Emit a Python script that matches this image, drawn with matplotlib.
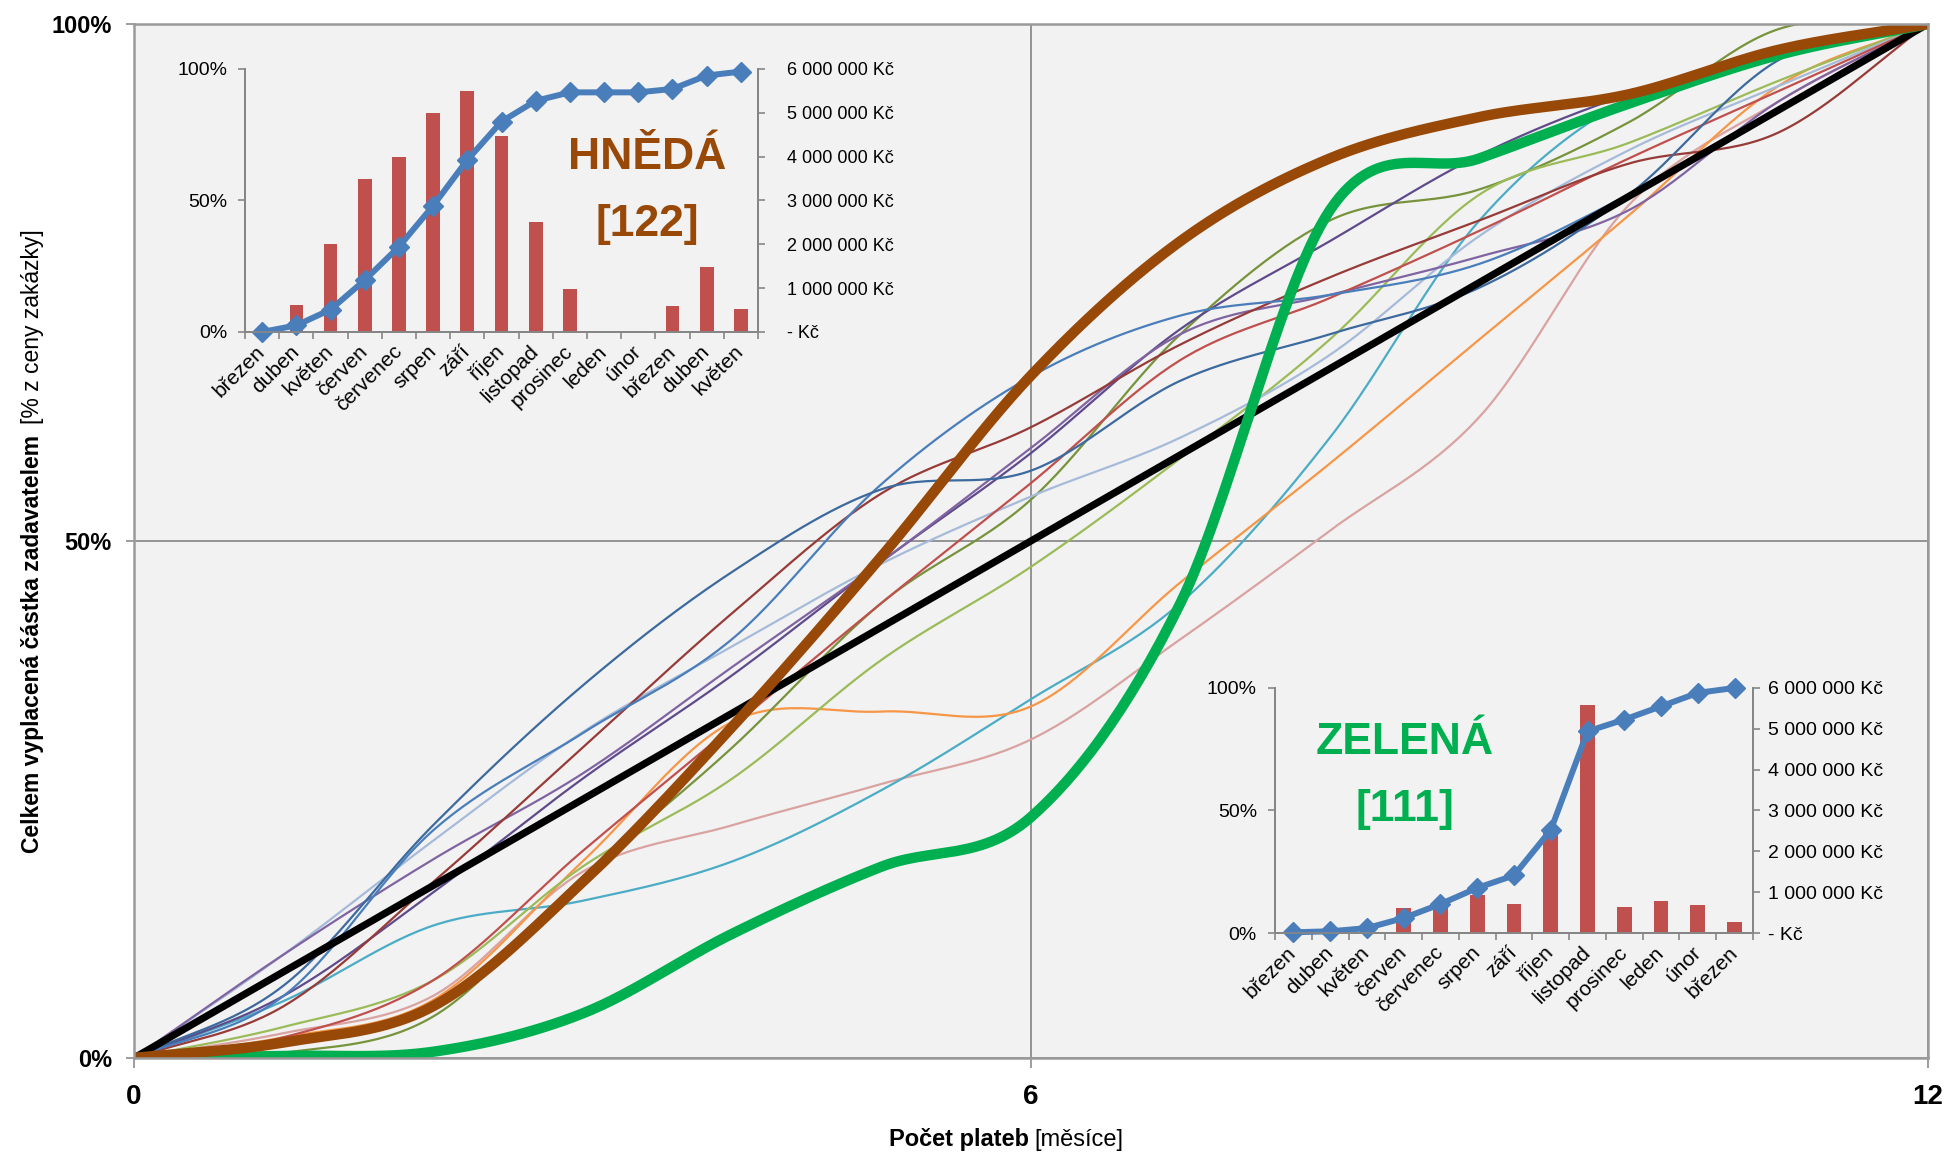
import numpy as np
import matplotlib.pyplot as plt
from matplotlib import font_manager

installed = {f.name for f in font_manager.fontManager.ttflist}
NARROW = 'Liberation Sans Narrow' if 'Liberation Sans Narrow' in installed else 'Liberation Sans'
SANS = 'Liberation Sans'

# --- main chart: share of contract price paid vs. number of monthly payments
months = list(range(13))
ideal_x = [0, 12]
ideal_y = [0.0, 1.0]

brown = [0, 0.015, 0.05, 0.17, 0.32, 0.485, 0.66, 0.79, 0.87, 0.91, 0.932, 0.975, 1.0]
green = [0, 0.002, 0.006, 0.043, 0.12, 0.185, 0.233, 0.44, 0.82, 0.87, 0.923, 0.97, 1.0]

dark_blue = [0, 0.07, 0.225, 0.36, 0.47, 0.55, 0.568, 0.655, 0.70, 0.745, 0.835, 0.965, 1.0]
blue = [0, 0.06, 0.22, 0.314, 0.405, 0.555, 0.659, 0.718, 0.738, 0.768, 0.835, 0.915, 1.0]
dark_red = [0, 0.05, 0.17, 0.30, 0.43, 0.546, 0.61, 0.69, 0.755, 0.81, 0.865, 0.895, 1.0]
red = [0, 0.02, 0.075, 0.2, 0.32, 0.44, 0.556, 0.675, 0.735, 0.80, 0.87, 0.935, 1.0]
purple = [0, 0.1, 0.192, 0.275, 0.378, 0.48, 0.59, 0.70, 0.738, 0.775, 0.82, 0.925, 1.0]
dark_purple = [0, 0.06, 0.16, 0.27, 0.37, 0.48, 0.585, 0.705, 0.79, 0.873, 0.932, 0.97, 1.0]
light_blue = [0, 0.1, 0.21, 0.315, 0.398, 0.478, 0.543, 0.6, 0.68, 0.795, 0.878, 0.94, 1.0]
light_green = [0, 0.03, 0.075, 0.185, 0.27, 0.385, 0.475, 0.58, 0.695, 0.835, 0.885, 0.945, 1.0]
olive = [0, 0.005, 0.04, 0.175, 0.3, 0.44, 0.54, 0.70, 0.81, 0.84, 0.905, 0.995, 1.0]
teal = [0, 0.055, 0.128, 0.152, 0.19, 0.259, 0.347, 0.44, 0.6, 0.81, 0.928, 0.967, 1.0]
orange = [0, 0.02, 0.056, 0.19, 0.325, 0.335, 0.34, 0.46, 0.575, 0.695, 0.815, 0.94, 1.0]
pink = [0, 0.024, 0.06, 0.18, 0.225, 0.265, 0.308, 0.405, 0.51, 0.62, 0.825, 0.925, 1.0]

thin_lines = [
    (pink, '#D9A3A1'), (teal, '#4BACC6'), (orange, '#F79646'), (olive, '#77933C'),
    (light_green, '#9BBB59'), (light_blue, '#A6BBD9'), (dark_purple, '#5F4B8B'),
    (purple, '#8064A2'), (red, '#C0504D'), (dark_red, '#973B38'), (blue, '#4A7EBB'),
    (dark_blue, '#3C6A9E'),
]

# --- inset HNĚDÁ [122]
brown_months = ['březen', 'duben', 'květen', 'červen', 'červenec', 'srpen', 'září', 'říjen',
                'listopad', 'prosinec', 'leden', 'únor', 'březen', 'duben', 'květen']
brown_pct = [0, 0.025, 0.085, 0.197, 0.324, 0.48, 0.654, 0.80, 0.879, 0.911, 0.911, 0.911,
             0.924, 0.975, 0.99]
brown_kc = [0, 610000, 2000000, 3500000, 4000000, 5000000, 5490000, 4480000, 2500000,
            990000, 0, 0, 590000, 1480000, 530000]

# --- inset ZELENÁ [111]
green_months = ['březen', 'duben', 'květen', 'červen', 'červenec', 'srpen', 'září', 'říjen',
                'listopad', 'prosinec', 'leden', 'únor', 'březen']
green_pct = [0.003, 0.007, 0.02, 0.061, 0.118, 0.184, 0.235, 0.42, 0.823, 0.871, 0.925,
             0.98, 1.0]
green_kc = [0, 0, 0, 610000, 650000, 930000, 720000, 2530000, 5590000, 640000, 780000,
            680000, 270000]


def smooth(xs, ys, steps=30):
    # catmull-rom curve through the points, like excel's smoothed lines
    x = np.asarray(xs, float)
    y = np.asarray(ys, float)
    xe = np.r_[2 * x[0] - x[1], x, 2 * x[-1] - x[-2]]
    ye = np.r_[2 * y[0] - y[1], y, 2 * y[-1] - y[-2]]
    t = np.linspace(0, 1, steps, endpoint=False)
    px, py = [], []
    for i in range(1, len(xe) - 2):
        for arr, out in ((xe, px), (ye, py)):
            p0, p1, p2, p3 = arr[i - 1:i + 3]
            out.append(0.5 * (2 * p1 + (p2 - p0) * t
                              + (2 * p0 - 5 * p1 + 4 * p2 - p3) * t ** 2
                              + (3 * p1 - p0 - 3 * p2 + p3) * t ** 3))
    px.append([x[-1]])
    py.append([y[-1]])
    return np.concatenate(px), np.concatenate(py)


GRAY = '#8C8C8C'

fig = plt.figure(figsize=(19.48, 11.57), dpi=100)
ax = fig.add_axes([0.0688, 0.0856, 0.9209, 0.8937])
ax.set_facecolor('#F2F2F2')

for values, color in thin_lines:
    ax.plot(*smooth(months, values), color=color, lw=1.6)
ax.plot(ideal_x, ideal_y, color='black', lw=5.2)
ax.plot(*smooth(months, green), color='#00B050', lw=7.5)
ax.plot(*smooth(months, brown), color='#984807', lw=7.5)

ax.set_xlim(0, 12)
ax.set_ylim(0, 1)
ax.set_xticks([0, 6, 12])
ax.set_xticklabels(['0', '6', '12'], family=NARROW, fontweight='bold', fontsize=20)
ax.set_yticks([0, 0.5, 1])
ax.set_yticklabels(['0%', '50%', '100%'], family=SANS, fontweight='bold', fontsize=17)
ax.tick_params(axis='x', length=7, width=1.2, color=GRAY, pad=12)
ax.tick_params(axis='y', length=6, width=1.2, color=GRAY, pad=10)
ax.grid(color=GRAY, lw=1.3)
ax.set_axisbelow(True)
for sp in ax.spines.values():
    sp.set_color('#9A9A9A')
    sp.set_linewidth(1.8)

# axis titles: bold part + regular part in brackets
fig.text(0.5282, 0.0147, 'Počet plateb', ha='right', va='center', family=NARROW,
         fontweight='bold', fontsize=17)
fig.text(0.5308, 0.0147, '[měsíce]', ha='left', va='center', family=NARROW, fontsize=17)
fig.text(0.0165, 0.4434, 'Celkem vyplacená částka zadavatelem', rotation=90, ha='center',
         va='center', family=NARROW, fontweight='bold', fontsize=16.5)
fig.text(0.0165, 0.7178, '[% z ceny zakázky]', rotation=90, ha='center', va='center',
         family=NARROW, fontsize=16.5)


def money(v, pos=None):
    if v == 0:
        return '- Kč'
    return f'{v:,.0f}'.replace(',', ' ') + ' Kč'


def inset(rect, labels, pct, kc, title, code, color, title_x, title_y, code_y, right_pad,
          right_size):
    a = fig.add_axes(rect)
    b = a.twinx()
    idx = np.arange(len(labels))
    b.bar(idx, kc, width=0.4, color='#C0504D')
    a.plot(idx, pct, color='#4A7EBB', lw=4.3, marker='D', ms=10.5, clip_on=False)
    a.set_zorder(b.get_zorder() + 1)
    a.patch.set_visible(False)
    b.patch.set_visible(False)

    a.set_xlim(-0.5, len(labels) - 0.5)
    a.set_ylim(0, 1)
    b.set_ylim(0, 6000000)
    a.set_yticks([0, 0.5, 1])
    a.set_yticklabels(['0%', '50%', '100%'], family=SANS, fontsize=14)
    b.set_yticks(np.arange(0, 6000001, 1000000))
    b.set_yticklabels([money(v) for v in np.arange(0, 6000001, 1000000)],
                      family=SANS, fontsize=right_size)
    a.set_xticks(idx)
    a.set_xticklabels(labels, rotation=45, ha='right', va='center',
                      rotation_mode='anchor', family=SANS, fontsize=15)
    a.set_xticks(np.arange(-0.5, len(labels), 1), minor=True)
    a.tick_params(axis='x', which='major', length=0, pad=12)
    a.tick_params(axis='x', which='minor', length=5, color='#868686', width=1.2)
    a.tick_params(axis='y', length=5, color='#868686', width=1.2, pad=8)
    b.tick_params(axis='y', length=5, color='#868686', width=1.2, pad=right_pad)
    for s in (a, b):
        s.spines['top'].set_visible(False)
        for side in ('left', 'right', 'bottom'):
            s.spines[side].set_color('#868686')
            s.spines[side].set_linewidth(1.3)

    a.text(title_x, title_y, title, transform=a.transAxes, ha='center', va='center',
           color=color, family=SANS, fontweight='bold', fontsize=32)
    a.text(title_x, code_y, code, transform=a.transAxes, ha='center', va='center',
           color=color, family=SANS, fontweight='bold', fontsize=32)


inset([0.1258, 0.7131, 0.2633, 0.2273], brown_months, brown_pct, brown_kc,
      'HNĚDÁ', '[122]', '#984807', 0.784, 0.665, 0.407, 16, 13)
inset([0.6545, 0.1936, 0.2454, 0.2118], green_months, green_pct, green_kc,
      'ZELENÁ', '[111]', '#00B050', 0.272, 0.776, 0.502, 6, 14)

fig.savefig('out.png', dpi=100, facecolor='white')
